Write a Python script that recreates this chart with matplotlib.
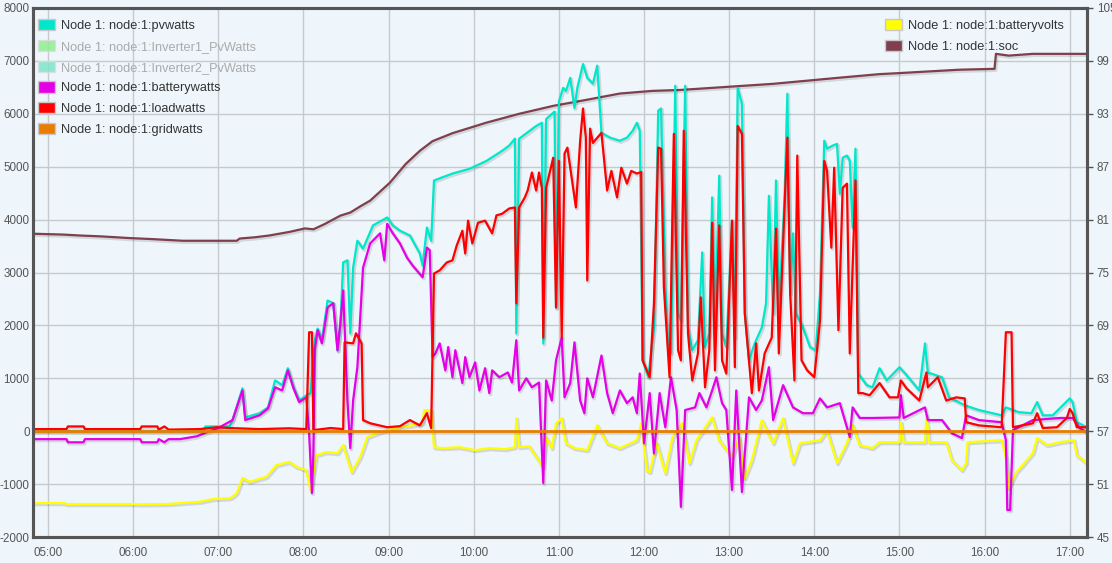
import matplotlib
matplotlib.use("Agg")
import matplotlib.pyplot as plt
import matplotlib.dates as mdates
import matplotlib.patheffects as pe
from matplotlib.patches import Patch
from datetime import datetime

plt.rcParams['font.family'] = ['Liberation Sans', 'DejaVu Sans']
plt.rcParams['axes.unicode_minus'] = False

# ---------------- data ----------------
pv_times = ["04:49", "06:49", "06:51", "07:08", "07:10", "07:17", "07:19", "07:29", "07:35", "07:40",
            "07:45", "07:49", "07:53", "07:57", "08:02", "08:05", "08:08", "08:10", "08:13", "08:17",
            "08:21", "08:24", "08:26", "08:28", "08:31", "08:33", "08:35", "08:38", "08:42", "08:49",
            "08:55", "08:59", "09:03", "09:08", "09:15", "09:22", "09:24", "09:27", "09:30", "09:32",
            "09:45", "09:57", "10:09", "10:20", "10:25", "10:29", "10:30", "10:32", "10:44", "10:48",
            "10:49", "10:51", "10:56", "10:57", "10:58", "11:00", "11:03", "11:05", "11:08", "11:11",
            "11:13", "11:17", "11:20", "11:24", "11:27", "11:30", "11:36", "11:43", "11:48", "11:52",
            "11:55", "11:57", "11:59", "12:03", "12:07", "12:10", "12:12", "12:15", "12:17", "12:19",
            "12:22", "12:24", "12:26", "12:29", "12:31", "12:34", "12:38", "12:41", "12:43", "12:46",
            "12:48", "12:50", "12:53", "12:55", "12:58", "13:02", "13:04", "13:06", "13:09", "13:11",
            "13:14", "13:18", "13:23", "13:26", "13:28", "13:31", "13:33", "13:35", "13:39", "13:41",
            "13:43", "13:45", "13:47", "13:52", "13:57", "14:01", "14:04", "14:07", "14:09", "14:13",
            "14:16", "14:18", "14:20", "14:23", "14:25", "14:27", "14:29", "14:31", "14:37", "14:41",
            "14:46", "14:51", "15:00", "15:05", "15:14", "15:18", "15:20", "15:30", "15:35", "15:46",
            "15:56", "16:12", "16:15", "16:24", "16:33", "16:37", "16:41", "16:48", "17:00", "17:02",
            "17:05", "17:12"]
pv_watts = [0, 0, 90, 90, 210, 810, 260, 340, 450, 960,
            870, 1190, 830, 580, 680, 720, 1720, 1940, 1720, 2470,
            2420, 1530, 2000, 3190, 3230, 1850, 3090, 3600, 3450, 3890,
            3980, 4040, 3890, 3790, 3700, 3360, 3130, 3850, 3600, 4740,
            4870, 4960, 5110, 5300, 5400, 5530, 1850, 5530, 5770, 5830,
            1660, 5900, 6020, 6040, 2340, 6230, 6490, 6430, 6680, 6110,
            6490, 6940, 6680, 6570, 6910, 5640, 5550, 5490, 5550, 5680,
            5830, 5680, 1340, 1020, 1960, 6060, 6100, 2720, 1590, 1470,
            6530, 2230, 2090, 6530, 1960, 1530, 1720, 3380, 1590, 1850,
            4420, 1960, 4830, 1850, 1590, 3980, 1770, 6490, 6190, 2230,
            1340, 1660, 1960, 2420, 4450, 2230, 4740, 2230, 4400, 6380,
            2600, 3740, 2230, 1960, 1590, 1530, 2600, 5490, 5340, 5400,
            5430, 4490, 5170, 5210, 5110, 3850, 5340, 1090, 870, 830,
            1190, 960, 1210, 1060, 770, 1660, 1110, 1020, 640, 490,
            400, 300, 450, 360, 340, 550, 300, 300, 620, 550,
            170, 75]

battery_times = ["04:49", "05:13", "05:14", "05:25", "05:26", "06:05", "06:06", "06:17", "06:18", "06:22",
                 "06:25", "06:33", "06:45", "06:52", "06:56", "07:01", "07:10", "07:17", "07:19", "07:29",
                 "07:35", "07:40", "07:45", "07:49", "07:53", "07:57", "08:02", "08:04", "08:06", "08:07",
                 "08:08", "08:10", "08:13", "08:17", "08:21", "08:24", "08:26", "08:28", "08:31", "08:33",
                 "08:35", "08:38", "08:42", "08:47", "08:54", "08:57", "08:59", "09:03", "09:08", "09:13",
                 "09:17", "09:24", "09:27", "09:29", "09:31", "09:33", "09:36", "09:40", "09:42", "09:45",
                 "09:47", "09:52", "09:54", "09:57", "10:01", "10:04", "10:08", "10:11", "10:13", "10:18",
                 "10:24", "10:27", "10:30", "10:32", "10:37", "10:41", "10:46", "10:49", "10:51", "10:55",
                 "10:58", "11:02", "11:04", "11:08", "11:11", "11:15", "11:18", "11:20", "11:24", "11:30",
                 "11:34", "11:38", "11:43", "11:48", "11:52", "11:55", "11:57", "12:00", "12:04", "12:07",
                 "12:11", "12:15", "12:19", "12:23", "12:26", "12:29", "12:36", "12:39", "12:44", "12:48",
                 "12:51", "12:55", "12:58", "13:02", "13:05", "13:09", "13:14", "13:19", "13:23", "13:28",
                 "13:31", "13:38", "13:45", "13:52", "13:59", "14:04", "14:09", "14:18", "14:25", "14:27",
                 "14:32", "14:41", "15:00", "15:01", "15:03", "15:18", "15:20", "15:30", "15:37", "15:44",
                 "15:47", "15:56", "16:12", "16:15", "16:16", "16:18", "16:20", "16:34", "16:53", "17:02",
                 "17:07", "17:12"]
battery_watts = [-150, -150, -210, -210, -150, -150, -210, -210, -150, -210,
                 -150, -150, -95, -20, 20, 75, 210, 770, 210, 300,
                 430, 830, 770, 1150, 810, 550, 640, -40, -1170, -420,
                 1530, 1910, 1660, 2340, 2420, 1530, 2040, 2660, 580, -320,
                 580, 1210, 3090, 3550, 3740, 3230, 3920, 3740, 3550, 3280,
                 3130, 2910, 3470, 3420, 1400, 1470, 1660, 1150, 1590, 1020,
                 1530, 910, 1400, 1020, 1300, 770, 1190, 720, 1150, 1020,
                 1110, 920, 1720, 770, 1000, 830, 920, -980, 960, 580,
                 1340, 1770, 640, 910, 1680, 580, 340, 1000, 640, 1430,
                 720, 340, 770, 530, 640, 340, 1090, -230, 720, -420,
                 720, 75, 1020, 400, -1430, 400, 450, 720, 450, 770,
                 1020, 530, 400, -1110, 770, -1150, 640, 400, 580, 1210,
                 210, 870, 450, 340, 340, 620, 450, 530, -110, 450,
                 250, 250, 260, 680, 250, 450, 210, 210, -40, -130,
                 300, 210, 170, -170, -1490, -1490, 20, 210, 250, 250,
                 60, -20]

load_times = ["04:49", "05:13", "05:14", "05:25", "05:26", "06:05", "06:06", "06:17", "06:18", "06:22",
              "06:25", "06:47", "06:59", "07:08", "07:29", "07:50", "08:02", "08:04", "08:06", "08:07",
              "08:19", "08:28", "08:29", "08:35", "08:37", "08:41", "08:42", "08:47", "08:59", "09:08",
              "09:15", "09:22", "09:27", "09:30", "09:32", "09:36", "09:41", "09:45", "09:48", "09:52",
              "09:54", "09:56", "09:59", "10:03", "10:08", "10:13", "10:16", "10:20", "10:25", "10:29",
              "10:30", "10:32", "10:36", "10:38", "10:41", "10:44", "10:46", "10:48", "10:49", "10:51",
              "10:56", "10:58", "11:00", "11:02", "11:04", "11:06", "11:12", "11:15", "11:17", "11:19",
              "11:20", "11:22", "11:24", "11:30", "11:34", "11:37", "11:41", "11:44", "11:48", "11:51",
              "11:55", "11:58", "11:59", "12:04", "12:07", "12:10", "12:12", "12:14", "12:18", "12:21",
              "12:24", "12:26", "12:28", "12:31", "12:34", "12:38", "12:40", "12:43", "12:46", "12:48",
              "12:50", "12:53", "12:55", "12:58", "13:02", "13:04", "13:06", "13:09", "13:11", "13:16",
              "13:19", "13:21", "13:25", "13:30", "13:33", "13:35", "13:39", "13:41", "13:43", "13:46",
              "13:48", "13:51", "13:55", "14:00", "14:04", "14:07", "14:09", "14:12", "14:14", "14:17",
              "14:20", "14:23", "14:25", "14:29", "14:31", "14:34", "14:39", "14:46", "14:53", "14:59",
              "15:01", "15:05", "15:14", "15:19", "15:20", "15:27", "15:33", "15:40", "15:46", "15:47",
              "15:56", "16:12", "16:15", "16:19", "16:20", "16:34", "16:37", "16:41", "16:51", "16:58",
              "17:00", "17:02", "17:05", "17:12"]
load_watts = [40, 40, 90, 90, 40, 40, 90, 90, 30, 90,
              30, 40, 75, 60, 40, 55, 40, 1870, 1870, 20,
              60, 40, 1680, 1660, 1850, 1660, 210, 150, 75, 95,
              210, 110, 340, 60, 2980, 3040, 3190, 3230, 3510, 3790,
              3360, 3980, 3550, 3940, 3980, 3740, 4080, 4110, 4210, 4230,
              2420, 4230, 4420, 4550, 4890, 4550, 4890, 4600, 1770, 4600,
              5170, 2340, 5110, 1770, 5250, 5360, 4230, 5490, 6100, 5550,
              2850, 5720, 5450, 5640, 4550, 4920, 4420, 4980, 4680, 4920,
              4870, 4900, 1340, 1020, 2420, 5360, 5340, 2720, 1020, 5620,
              1530, 1340, 5680, 1850, 960, 1470, 2530, 830, 1530, 3940,
              1150, 3890, 1340, 1090, 3980, 1210, 5770, 5620, 2230, 720,
              1660, 770, 1470, 1770, 3830, 1470, 4230, 5550, 2600, 960,
              5210, 1340, 1150, 1020, 2090, 5110, 4920, 3470, 4980, 1910,
              4600, 4680, 1470, 4740, 720, 720, 680, 910, 640, 640,
              960, 810, 580, 1110, 830, 1020, 580, 640, 620, 170,
              110, 75, 1870, 1870, 75, 150, 340, 60, 75, 250,
              420, 340, 75, 75]

grid_times = ["04:49", "17:12"]
grid_watts = [0, 0]

volts_times = ["04:49", "05:11", "05:13", "06:00", "06:05", "06:24", "06:47", "06:56", "07:08", "07:10",
               "07:13", "07:17", "07:22", "07:34", "07:41", "07:50", "07:55", "08:02", "08:05", "08:06",
               "08:09", "08:16", "08:24", "08:28", "08:34", "08:40", "08:45", "08:54", "08:59", "09:08",
               "09:17", "09:24", "09:25", "09:30", "09:32", "09:38", "09:50", "10:01", "10:11", "10:22",
               "10:29", "10:30", "10:32", "10:39", "10:49", "10:51", "10:55", "10:58", "11:02", "11:05",
               "11:11", "11:20", "11:27", "11:34", "11:43", "11:55", "11:58", "12:02", "12:04", "12:09",
               "12:15", "12:20", "12:27", "12:32", "12:37", "12:48", "12:53", "13:02", "13:07", "13:11",
               "13:16", "13:23", "13:31", "13:38", "13:45", "13:50", "14:04", "14:09", "14:16", "14:23",
               "14:27", "14:32", "14:41", "14:46", "15:00", "15:01", "15:03", "15:18", "15:19", "15:21",
               "15:33", "15:37", "15:44", "15:47", "15:48", "16:12", "16:15", "16:17", "16:22", "16:34",
               "16:37", "16:44", "16:53", "17:03", "17:05", "17:12"]
battery_volts = [48.85, 48.85, 48.74, 48.74, 48.70, 48.74, 49.0, 49.3, 49.4, 49.56,
                 49.98, 51.7, 51.26, 51.83, 53.15, 53.52, 52.96, 52.58, 50.3, 51.1,
                 54.28, 54.62, 54.51, 55.42, 52.36, 54.06, 56.32, 56.89, 57.11, 57.45,
                 57.68, 57.9, 59.38, 59.38, 55.19, 55.08, 55.19, 54.85, 55.08, 54.96,
                 55.19, 58.47, 55.19, 55.3, 52.92, 56.32, 55.08, 57.9, 58.47, 55.64,
                 55.08, 54.85, 57.68, 55.64, 55.08, 55.98, 57.9, 52.58, 52.36, 55.64,
                 52.25, 56.32, 57.9, 53.38, 55.98, 58.58, 55.98, 54.06, 56.32, 51.68,
                 53.72, 58.25, 55.64, 58.47, 53.38, 55.64, 55.98, 57.11, 53.38, 55.64,
                 57.68, 55.42, 55.08, 55.75, 55.75, 58.02, 55.75, 55.75, 58.81, 55.75,
                 55.75, 53.72, 52.58, 53.38, 55.75, 55.98, 54.06, 50.55, 52.25, 54.51,
                 56.21, 55.42, 55.75, 55.98, 54.28, 53.38]

soc_times = ["04:49", "05:11", "05:22", "05:37", "05:58", "06:12", "06:35", "07:13", "07:15", "07:26",
             "07:36", "07:50", "08:01", "08:07", "08:15", "08:26", "08:33", "08:40", "08:47", "09:01",
             "09:12", "09:22", "09:31", "09:45", "10:09", "10:32", "10:56", "11:20", "11:43", "12:06",
             "12:25", "12:44", "13:31", "14:18", "14:46", "14:58", "15:42", "16:07", "16:08", "16:17",
             "16:34", "17:12"]
soc_values = [79.4, 79.3, 79.2, 79.1, 78.9, 78.8, 78.6, 78.6, 78.85, 79.0,
              79.2, 79.6, 80.0, 79.9, 80.5, 81.45, 81.8, 82.5, 83.15, 85.2,
              87.3, 88.8, 89.9, 90.8, 92.0, 93.0, 93.9, 94.6, 95.3, 95.6,
              95.7, 95.9, 96.4, 97.1, 97.5, 97.6, 98.0, 98.1, 99.8, 99.6,
              99.8, 99.8]

left_ticks = [-2000, -1000, 0, 1000, 2000, 3000, 4000, 5000, 6000, 7000, 8000]
right_ticks = [45, 51, 57, 63, 69, 75, 81, 87, 93, 99, 105]

legend_left = ["Node 1: node:1:pvwatts", "Node 1: node:1:Inverter1_PvWatts",
               "Node 1: node:1:Inverter2_PvWatts", "Node 1: node:1:batterywatts",
               "Node 1: node:1:loadwatts", "Node 1: node:1:gridwatts"]
legend_right = ["Node 1: node:1:batteryvolts", "Node 1: node:1:soc"]

# ---------------- styling ----------------
BG = '#eef6fb'
C_PV = '#00e8cc'
C_INV1 = '#90ee90'
C_INV2 = '#7fe5c8'
C_BATT = '#e600e6'
C_LOAD = '#ff0000'
C_GRID = '#e87d00'
C_VOLT = '#ffff00'
C_SOC = '#7f3f4c'
GRID_C = '#c6cacd'
SPINE_C = '#555555'
TXT_C = '#555555'
TICK_FS = 8.4


def to_dt(ts):
    return [datetime(2024, 1, 1, int(s[:2]), int(s[3:5])) for s in ts]


fig = plt.figure(figsize=(11.12, 5.63), dpi=100, facecolor=BG)
ax = fig.add_axes([33 / 1112, 1 - 537 / 563, (1087 - 33) / 1112, (537 - 8) / 563])
ax2 = ax.twinx()
ax.set_zorder(ax2.get_zorder() + 1)
ax.patch.set_visible(False)
ax2.patch.set_visible(True)
ax2.patch.set_facecolor(BG)

shadow = [pe.SimpleLineShadow(offset=(0.8, -1.0), shadow_color='#000000', alpha=0.12, linewidth=2.6),
          pe.Normal()]
lw = 1.6

ax2.plot(to_dt(volts_times), battery_volts, color=C_VOLT, lw=lw, path_effects=shadow)
ax2.plot(to_dt(soc_times), soc_values, color=C_SOC, lw=lw, path_effects=shadow)

ax.plot(to_dt(pv_times), pv_watts, color=C_PV, lw=lw, path_effects=shadow)
ax.plot(to_dt(battery_times), battery_watts, color=C_BATT, lw=lw, path_effects=shadow)
ax.plot(to_dt(load_times), load_watts, color=C_LOAD, lw=lw, path_effects=shadow)
ax.plot(to_dt(grid_times), grid_watts, color=C_GRID, lw=lw + 0.4, path_effects=shadow)

ax.set_ylim(-2000, 8000)
ax.set_yticks(left_ticks)
ax2.set_ylim(45, 105)
ax2.set_yticks(right_ticks)

x0 = datetime(2024, 1, 1, 4, 49, 25)
x1 = datetime(2024, 1, 1, 17, 12, 10)
ax.set_xlim(x0, x1)
ax.xaxis.set_major_locator(mdates.HourLocator())
ax.xaxis.set_major_formatter(mdates.DateFormatter('%H:%M'))

# grid on the back axes so it stays below all lines
ax2.set_xlim(x0, x1)
for h in range(5, 18):
    ax2.axvline(datetime(2024, 1, 1, h), color=GRID_C, lw=1.0, zorder=0)
for v in right_ticks:
    ax2.axhline(v, color=GRID_C, lw=1.0, zorder=0)

for a in (ax, ax2):
    for s in a.spines.values():
        s.set_color(SPINE_C)
        s.set_linewidth(2.2)
    a.tick_params(colors=TXT_C, labelsize=TICK_FS)
ax.tick_params(axis='y', length=0, pad=2.5)
ax.tick_params(axis='x', length=0, pad=7)
ax2.tick_params(axis='y', length=4, width=1, color=SPINE_C, pad=3)
for lab in ax.get_yticklabels() + ax.get_xticklabels() + ax2.get_yticklabels():
    lab.set_color(TXT_C)

# legends
h_left = [Patch(facecolor=C_PV, edgecolor='#c8c8c8', lw=1),
          Patch(facecolor=C_INV1, edgecolor='#dddddd', lw=1, alpha=0.85),
          Patch(facecolor=C_INV2, edgecolor='#dddddd', lw=1, alpha=0.85),
          Patch(facecolor=C_BATT, edgecolor='#c8c8c8', lw=1),
          Patch(facecolor=C_LOAD, edgecolor='#c8c8c8', lw=1),
          Patch(facecolor=C_GRID, edgecolor='#c8c8c8', lw=1)]
leg1 = fig.legend(handles=h_left, labels=legend_left, loc='upper left',
                  bbox_to_anchor=(38 / 1112, 1 - 19 / 563), frameon=False, fontsize=9.2,
                  handlelength=1.35, handleheight=1.0, handletextpad=0.45,
                  labelspacing=0.6, borderpad=0, borderaxespad=0)
for i, t in enumerate(leg1.get_texts()):
    t.set_color('#aaaaaa' if i in (1, 2) else '#333333')

h_right = [Patch(facecolor=C_VOLT, edgecolor='#c8c8c8', lw=1),
           Patch(facecolor=C_SOC, edgecolor='#c8c8c8', lw=1)]
leg2 = fig.legend(handles=h_right, labels=legend_right, loc='upper left',
                  bbox_to_anchor=(885 / 1112, 1 - 19 / 563), frameon=False, fontsize=9.2,
                  handlelength=1.35, handleheight=1.0, handletextpad=0.45,
                  labelspacing=0.6, borderpad=0, borderaxespad=0)
for t in leg2.get_texts():
    t.set_color('#333333')

fig.savefig('out.png', dpi=100, facecolor=BG)
